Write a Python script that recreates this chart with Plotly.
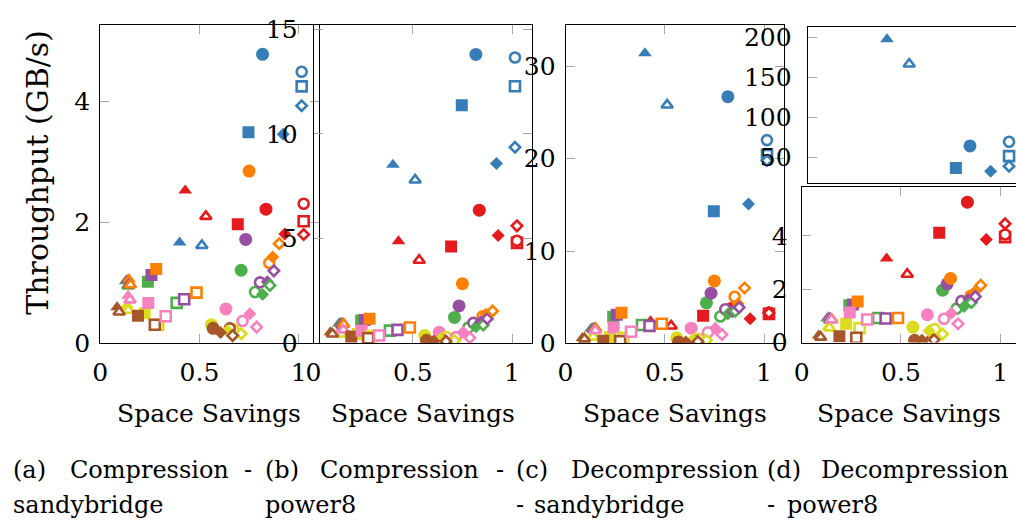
import plotly.graph_objects as go

W, H = 1016, 529
FONT = "DejaVu Serif"

# Datasets, drawn in this order inside every codec trace
dataset_colors = ["#e41a1c", "#377eb8", "#4daf4a", "#984ea3",
                  "#ff7f00", "#dcdc1e", "#a65628", "#f781bf"]

# Codecs: marker shape and whether the marker is hollow
codec_symbols = ["triangle-up", "triangle-up", "square", "square",
                 "circle", "circle", "diamond", "diamond"]
codec_hollow = [False, True, False, True, False, True, False, True]

# Space savings per dataset (one value per codec, same order as codec_symbols)
savings_red    = [0.428, 0.532, 0.693, 1.025, 0.835, 1.025, 0.930, 1.025]
savings_blue   = [0.400, 0.512, 0.747, 1.015, 0.818, 1.015, 0.922, 1.015]
savings_green  = [0.128, 0.140, 0.240, 0.385, 0.710, 0.780, 0.818, 0.855]
savings_purple = [0.135, 0.145, 0.258, 0.423, 0.733, 0.805, 0.842, 0.875]
savings_orange = [0.145, 0.152, 0.282, 0.485, 0.750, 0.852, 0.869, 0.902]
savings_yellow = [0.135, 0.140, 0.224, 0.292, 0.560, 0.670, 0.641, 0.710]
savings_brown  = [0.085, 0.095, 0.190, 0.275, 0.569, 0.653, 0.606, 0.667]
savings_pink   = [0.140, 0.150, 0.242, 0.330, 0.633, 0.717, 0.754, 0.788]

# Compression throughput (GB/s) - sandybridge
comp_sb_red    = [2.53, 2.10, 1.97, 2.02, 2.22, 2.31, 1.81, 1.80]
comp_sb_blue   = [1.67, 1.62, 3.49, 4.25, 4.78, 4.49, 3.46, 3.93]
comp_sb_green  = [1.03, 0.95, 1.02, 0.67, 1.21, 0.85, 0.81, 0.96]
comp_sb_purple = [1.05, 0.97, 1.13, 0.73, 1.72, 1.01, 1.02, 1.20]
comp_sb_orange = [1.06, 0.97, 1.23, 0.84, 2.85, 1.33, 1.43, 1.65]
comp_sb_yellow = [0.63, 0.55, 0.50, 0.31, 0.31, 0.24, 0.21, 0.16]
comp_sb_brown  = [0.60, 0.52, 0.46, 0.31, 0.25, 0.25, 0.18, 0.13]
comp_sb_pink   = [0.79, 0.72, 0.67, 0.45, 0.57, 0.37, 0.49, 0.27]

# Compression throughput (GB/s) - power8
comp_p8_red    = [4.88, 3.97, 4.62, 4.80, 6.36, 4.90, 5.15, 5.61]
comp_p8_blue   = [8.53, 7.80, 11.36, 12.27, 13.79, 13.64, 8.59, 9.36]
comp_p8_green  = [0.95, 0.90, 1.10, 0.61, 1.24, 0.76, 0.80, 0.88]
comp_p8_purple = [0.97, 0.90, 1.12, 0.65, 1.79, 0.98, 1.03, 1.18]
comp_p8_orange = [0.98, 0.92, 1.18, 0.76, 2.85, 1.30, 1.39, 1.55]
comp_p8_yellow = [0.50, 0.45, 0.45, 0.35, 0.38, 0.30, 0.22, 0.14]
comp_p8_brown  = [0.53, 0.45, 0.33, 0.25, 0.15, 0.15, 0.12, 0.10]
comp_p8_pink   = [0.70, 0.65, 0.61, 0.38, 0.53, 0.30, 0.53, 0.27]

# Decompression throughput (GB/s) - sandybridge
decomp_sb_red    = [2.41, 1.89, 2.99, 3.20, 3.78, 3.35, 2.68, 3.30]
decomp_sb_blue   = [31.4, 25.8, 14.3, 20.4, 26.7, 22.0, 15.1, 19.8]
decomp_sb_green  = [1.60, 1.50, 2.90, 2.00, 4.40, 2.92, 3.20, 3.50]
decomp_sb_purple = [1.65, 1.55, 3.10, 1.90, 5.43, 3.70, 3.44, 3.90]
decomp_sb_orange = [1.70, 1.60, 3.33, 2.13, 6.77, 5.05, 4.30, 6.01]
decomp_sb_yellow = [0.80, 0.70, 0.70, 0.60, 0.62, 0.50, 0.40, 0.34]
decomp_sb_brown  = [0.60, 0.50, 0.28, 0.25, 0.17, 0.20, 0.15, 0.20]
decomp_sb_pink   = [1.50, 1.40, 1.72, 1.27, 1.65, 1.20, 1.65, 0.96]

# Decompression throughput (GB/s) - power8
decomp_p8_red    = [3.15, 2.56, 4.11, 3.95, 5.26, 4.05, 3.86, 4.45]
decomp_p8_blue   = [198.0, 167.0, 37.0, 52.0, 64.7, 69.9, 33.0, 39.3]
decomp_p8_green  = [0.90, 0.85, 1.40, 0.92, 1.96, 1.27, 1.35, 1.50]
decomp_p8_purple = [0.95, 0.88, 1.42, 0.90, 2.20, 1.55, 1.63, 1.72]
decomp_p8_orange = [0.92, 0.86, 1.54, 0.92, 2.40, 1.75, 1.87, 2.14]
decomp_p8_yellow = [0.60, 0.55, 0.70, 0.54, 0.58, 0.50, 0.44, 0.32]
decomp_p8_brown  = [0.26, 0.20, 0.23, 0.18, 0.08, 0.08, 0.08, 0.10]
decomp_p8_pink   = [0.92, 0.85, 1.12, 0.86, 1.04, 0.89, 1.10, 0.70]

savings = [savings_red, savings_blue, savings_green, savings_purple,
           savings_orange, savings_yellow, savings_brown, savings_pink]
comp_sb = [comp_sb_red, comp_sb_blue, comp_sb_green, comp_sb_purple,
           comp_sb_orange, comp_sb_yellow, comp_sb_brown, comp_sb_pink]
comp_p8 = [comp_p8_red, comp_p8_blue, comp_p8_green, comp_p8_purple,
           comp_p8_orange, comp_p8_yellow, comp_p8_brown, comp_p8_pink]
decomp_sb = [decomp_sb_red, decomp_sb_blue, decomp_sb_green, decomp_sb_purple,
             decomp_sb_orange, decomp_sb_yellow, decomp_sb_brown, decomp_sb_pink]
decomp_p8 = [decomp_p8_red, decomp_p8_blue, decomp_p8_green, decomp_p8_purple,
             decomp_p8_orange, decomp_p8_yellow, decomp_p8_brown, decomp_p8_pink]

filled_size = {"triangle-up": 12, "square": 12, "circle": 13, "diamond": 10}
hollow_size = {"triangle-up": 10, "square": 10, "circle": 10, "diamond": 8}

fig = go.Figure()


def add_panel(values, xa, ya):
    for k, sym in enumerate(codec_symbols):
        xs = [s[k] for s in savings]
        ys = [v[k] for v in values]
        if codec_hollow[k]:
            marker = dict(symbol=sym, size=hollow_size[sym], color="white",
                          line=dict(color=dataset_colors, width=2.6))
        else:
            marker = dict(symbol=sym, size=filled_size[sym], color=dataset_colors,
                          line=dict(width=0))
        fig.add_trace(go.Scatter(x=xs, y=ys, mode="markers", marker=marker,
                                 xaxis=xa, yaxis=ya, showlegend=False,
                                 hoverinfo="x+y"))


add_panel(comp_sb, "x", "y")
add_panel(comp_p8, "x2", "y2")
add_panel(decomp_sb, "x3", "y3")
add_panel(decomp_p8, "x4", "y4")   # lower part of the broken axis
add_panel(decomp_p8, "x5", "y5")   # upper part of the broken axis


def hdom(left, right):
    return [left / W, min(right / W, 1.0)]


def vdom(top, bottom):
    return [(H - bottom) / H, (H - top) / H]


tickfont = dict(family=FONT, size=25, color="black")
base = dict(showline=True, linecolor="black", linewidth=1, ticks="inside",
            ticklen=9, tickwidth=1.2, tickcolor="#a8a8a8", showgrid=False,
            zeroline=False, tickfont=tickfont, mirror="ticks")

xticks = dict(tickvals=[0, 0.5, 1], ticktext=["0", "0.5", "1"], ticklabelstandoff=7)

layout = dict(
    width=W, height=H, margin=dict(l=0, r=0, t=0, b=0),
    paper_bgcolor="white", plot_bgcolor="rgba(0,0,0,0)",
    showlegend=False,
    font=dict(family=FONT),
    xaxis=dict(base, **xticks, domain=hdom(93, 313), range=[0, 1.1], anchor="y"),
    yaxis=dict(base, domain=vdom(16, 350), range=[0, 5.26], anchor="x",
               tickvals=[0, 2, 4], ticklabelstandoff=4),
    xaxis2=dict(base, **xticks, domain=hdom(308, 528), range=[0, 1.1], anchor="y2"),
    yaxis2=dict(base, domain=vdom(16, 350), range=[0, 15.18], anchor="x2",
                tickvals=[0, 5, 10, 15], ticklabelstandoff=10),
    xaxis3=dict(base, **xticks, domain=hdom(562, 782), range=[0, 1.1], anchor="y3"),
    yaxis3=dict(base, domain=vdom(16, 350), range=[0, 34.43], anchor="x3",
                tickvals=[0, 10, 20, 30], ticklabelstandoff=4),
    xaxis4=dict(base, **xticks, domain=hdom(800, 1016), range=[0, 1.08], anchor="y4"),
    yaxis4=dict(base, domain=vdom(186, 349), range=[0, 5.82], anchor="x4",
                tickvals=[0, 2, 4], ticklabelstandoff=8, mirror=False),
    xaxis5=dict(base, domain=hdom(806, 1016), range=[0, 1.05], anchor="y5",
                ticks="", showticklabels=False, mirror=True),
    yaxis5=dict(base, domain=vdom(18, 182), range=[17.9, 213.1], anchor="x5",
                tickvals=[50, 100, 150, 200], ticklabelstandoff=10, mirror=False),
)
fig.update_layout(**layout)


def text(s, x, y, xanchor="left", size=24, angle=0):
    fig.add_annotation(text=s, x=x / W, y=1 - y / H, xref="paper", yref="paper",
                       xanchor=xanchor, yanchor="middle", showarrow=False,
                       textangle=angle, font=dict(family=FONT, size=size, color="black"))


text("Throughput (GB/s)", 30, 170, xanchor="center", angle=-90, size=30)

for cx in (203, 418, 672, 908):
    text("Space Savings", cx, 423, xanchor="center", size=25)

caption_row1 = [("(a)", 3), ("Compression", 60), ("-", 236), ("(b)", 257),
                ("Compression", 312), ("-", 490), ("(c)", 510),
                ("Decompression", 565), ("(d)", 763), ("Decompression", 817)]
caption_row2 = [("sandybridge", 3), ("power8", 257), ("-", 510),
                ("sandybridge", 528), ("-", 763), ("power8", 783)]
for word, left in caption_row1:
    text(word, left, 483)
for word, left in caption_row2:
    text(word, left, 520)

fig.write_html("out.html")
